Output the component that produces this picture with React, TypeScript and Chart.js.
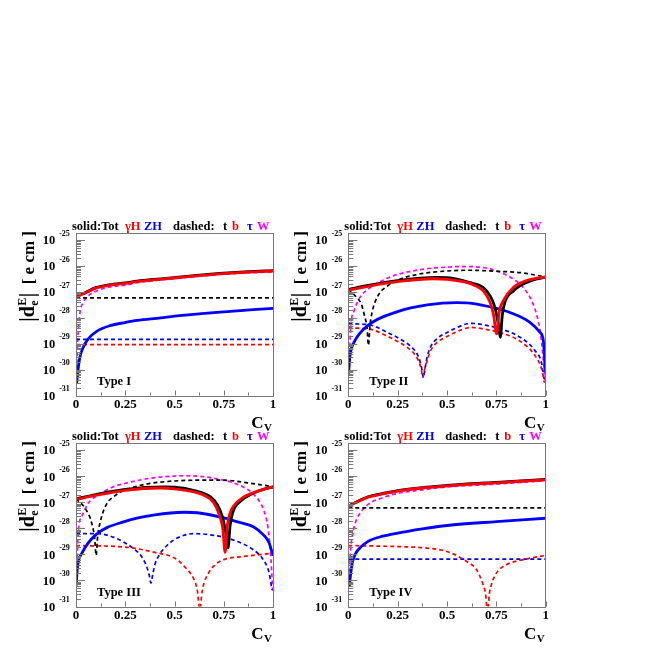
import React, { useEffect, useRef } from "react";
import { Chart, registerables } from "chart.js";
Chart.register(...registerables);

type Pt = [number, number];

// ---------- axes / labels ----------
const xTickValues = [0, 0.25, 0.5, 0.75, 1];
const xTickLabels = ["0", "0.25", "0.5", "0.75", "1"];
const xMinorTickValues = [0.125, 0.375, 0.625, 0.875];
const yDecadeValues = [1e-31, 1e-30, 1e-29, 1e-28, 1e-27, 1e-26, 1e-25];
const yDecadeExponents = ["-31", "-30", "-29", "-28", "-27", "-26", "-25"];
const Y_MIN = 1e-31;
const Y_MAX = 1.9e-25;
const typeLabels = ["Type I", "Type II", "Type III", "Type IV"];
const headerTexts = ["solid:Tot", "\u03b3H", "ZH", "dashed:", "t", "b", "\u03c4", "W"];
const headerColors = ["#000000", "#ff0000", "#0000ff", "#000000", "#000000", "#ff0000", "#0000ff", "#ff00ff"];

// ---------- Type I ----------
const gH1: Pt[] = [[0, 5.9e-28], [0.02, 7.4e-28], [0.05, 9.3e-28], [0.1, 1.41e-27], [0.175, 1.86e-27], [0.25, 2.14e-27], [0.31, 2.51e-27], [0.43, 3.09e-27], [0.5, 3.47e-27], [0.625, 4.27e-27], [0.75, 5.13e-27], [0.875, 5.89e-27], [1, 6.46e-27]];
const tot1: Pt[] = [[0, 6.1e-28], [0.02, 7.7e-28], [0.05, 9.7e-28], [0.1, 1.47e-27], [0.175, 1.94e-27], [0.25, 2.23e-27], [0.31, 2.62e-27], [0.43, 3.22e-27], [0.5, 3.62e-27], [0.625, 4.45e-27], [0.75, 5.35e-27], [0.875, 6.13e-27], [1, 6.72e-27]];
const zH1: Pt[] = [[0.0035, 2.95e-31], [0.012, 1.26e-30], [0.02, 3.09e-30], [0.037, 7.41e-30], [0.062, 1.55e-29], [0.105, 3.02e-29], [0.173, 5.01e-29], [0.25, 6.61e-29], [0.31, 7.94e-29], [0.43, 1.0e-28], [0.5, 1.17e-28], [0.75, 1.7e-28], [1, 2.34e-28]];
const t1: Pt[] = [[0, 5.9e-28], [1, 5.9e-28]];
const b1: Pt[] = [[0, 9.3e-30], [1, 9.3e-30]];
const tau1: Pt[] = [[0, 1.48e-29], [1, 1.48e-29]];
const w1: Pt[] = [[0.0035, 9.55e-31], [0.008, 1.0e-29], [0.014, 5.89e-29], [0.022, 1.91e-28], [0.037, 3.98e-28], [0.062, 7.08e-28], [0.105, 1.1e-27], [0.173, 1.58e-27], [0.25, 1.82e-27], [0.31, 2.29e-27], [0.43, 2.95e-27], [0.5, 3.31e-27], [0.75, 4.9e-27], [1, 6.03e-27]];

// ---------- Type II ----------
const gH2: Pt[] = [[0, 1.17e-27], [0.1, 1.66e-27], [0.25, 2.51e-27], [0.43, 3.24e-27], [0.5, 3.09e-27], [0.6, 2.34e-27], [0.65, 1.66e-27], [0.684, 1.1e-27], [0.718, 3.98e-28], [0.735, 1.41e-28], [0.752, 2.4e-29], [0.765, 1.78e-28], [0.785, 4.57e-28], [0.836, 1.48e-27], [0.9, 2.69e-27], [0.95, 3.39e-27], [1, 3.8e-27]];
const tot2: Pt[] = [[0, 1.23e-27], [0.1, 1.78e-27], [0.25, 2.75e-27], [0.45, 3.63e-27], [0.5, 3.55e-27], [0.616, 2.29e-27], [0.684, 1.48e-27], [0.718, 7.08e-28], [0.743, 2.51e-28], [0.76, 5.75e-29], [0.77, 1.78e-29], [0.78, 1.26e-28], [0.793, 3.98e-28], [0.836, 1.1e-27], [0.9, 2.29e-27], [0.95, 3.16e-27], [1, 3.72e-27]];
const zH2: Pt[] = [[0.002, 7.94e-31], [0.005, 1.78e-30], [0.01, 4.17e-30], [0.03, 1.17e-29], [0.1, 5.13e-29], [0.25, 1.74e-28], [0.4, 3.16e-28], [0.55, 3.89e-28], [0.616, 3.72e-28], [0.75, 2.34e-28], [0.819, 1.62e-28], [0.92, 6.76e-29], [0.97, 2.82e-29], [0.988, 1.35e-29], [0.997, 1.26e-30], [1, 7.94e-31]];
const t2: Pt[] = [[0, 1.29e-27], [0.05, 5.25e-28], [0.065, 3.55e-28], [0.08, 1.41e-28], [0.095, 3.98e-29], [0.102, 8.71e-30], [0.11, 5.01e-29], [0.12, 1.58e-28], [0.15, 7.08e-28], [0.2, 1.74e-27], [0.25, 2.88e-27], [0.35, 4.79e-27], [0.5, 6.46e-27], [0.616, 6.92e-27], [0.75, 6.31e-27], [0.87, 5.62e-27], [1, 3.8e-27]];
const tau2: Pt[] = [[0, 5.89e-29], [0.1, 5.5e-29], [0.2, 2.69e-29], [0.3, 1.0e-29], [0.33, 6.31e-30], [0.355, 3.16e-30], [0.372, 1.12e-30], [0.38, 5.01e-31], [0.39, 1.26e-30], [0.4, 3.16e-30], [0.415, 7.08e-30], [0.45, 1.58e-29], [0.5, 2.69e-29], [0.6, 5.89e-29], [0.62, 6.17e-29], [0.7, 5.13e-29], [0.77, 3.8e-29], [0.87, 1.78e-29], [0.945, 5.5e-30], [0.98, 1.7e-30], [0.993, 3.98e-31], [0.998, 3.16e-31]];
const b2: Pt[] = [[0, 4.07e-29], [0.1, 3.8e-29], [0.2, 1.91e-29], [0.3, 7.08e-30], [0.33, 4.47e-30], [0.355, 2.24e-30], [0.37, 1.0e-30], [0.378, 5.01e-31], [0.388, 1.12e-30], [0.4, 2.24e-30], [0.415, 5.01e-30], [0.45, 1.12e-29], [0.5, 1.91e-29], [0.6, 4.07e-29], [0.62, 4.27e-29], [0.7, 3.55e-29], [0.77, 2.69e-29], [0.87, 1.26e-29], [0.945, 3.55e-30], [0.98, 1.0e-30], [0.993, 3.16e-31]];
const w2: Pt[] = [[0.004, 6.31e-31], [0.01, 2.51e-29], [0.03, 1.91e-28], [0.06, 6.31e-28], [0.1, 1.29e-27], [0.175, 2.82e-27], [0.25, 4.79e-27], [0.4, 7.94e-27], [0.5, 9.12e-27], [0.55, 9.55e-27], [0.616, 9.55e-27], [0.718, 7.76e-27], [0.819, 3.8e-27], [0.87, 2.0e-27], [0.92, 6.31e-28], [0.953, 1.41e-28], [0.974, 2.4e-29], [0.988, 2.29e-30], [0.996, 3.98e-31]];

// ---------- Type III ----------
const gH3: Pt[] = [[0, 1.29e-27], [0.1, 1.86e-27], [0.25, 2.88e-27], [0.43, 3.55e-27], [0.5, 3.31e-27], [0.6, 2.51e-27], [0.65, 1.86e-27], [0.7, 9.55e-28], [0.73, 2.95e-28], [0.745, 1.0e-28], [0.757, 1.2e-29], [0.768, 1.26e-28], [0.785, 4.47e-28], [0.8, 7.24e-28], [0.85, 1.58e-27], [0.9, 2.34e-27], [1, 3.98e-27]];
const tot3: Pt[] = [[0, 1.35e-27], [0.1, 2.0e-27], [0.25, 3.16e-27], [0.45, 3.89e-27], [0.5, 3.8e-27], [0.6, 2.82e-27], [0.684, 1.58e-27], [0.718, 7.94e-28], [0.743, 2.82e-28], [0.76, 7.08e-29], [0.772, 1.78e-29], [0.782, 1.26e-28], [0.795, 3.98e-28], [0.836, 1.12e-27], [0.9, 2.24e-27], [0.95, 3.16e-27], [1, 3.89e-27]];
const zH3: Pt[] = [[0.002, 7.94e-31], [0.005, 2.0e-30], [0.01, 4.47e-30], [0.03, 1.12e-29], [0.1, 5.62e-29], [0.25, 1.86e-28], [0.4, 3.31e-28], [0.55, 4.17e-28], [0.616, 3.98e-28], [0.75, 2.51e-28], [0.82, 1.78e-28], [0.9, 1.15e-28], [0.95, 5.75e-29], [0.98, 2.82e-29], [1, 8.91e-30]];
const t3: Pt[] = [[0, 1.38e-27], [0.05, 5.37e-28], [0.08, 1.58e-28], [0.095, 3.98e-29], [0.102, 9.12e-30], [0.11, 5.01e-29], [0.12, 1.41e-28], [0.15, 7.24e-28], [0.2, 1.86e-27], [0.25, 2.95e-27], [0.35, 4.9e-27], [0.5, 6.61e-27], [0.616, 7.08e-27], [0.75, 7.08e-27], [0.87, 5.62e-27], [1, 3.98e-27]];
const tau3: Pt[] = [[0, 6.31e-29], [0.1, 6.31e-29], [0.2, 4.27e-29], [0.3, 1.51e-29], [0.33, 8.91e-30], [0.355, 3.98e-30], [0.372, 1.58e-30], [0.38, 7.94e-31], [0.39, 1.78e-30], [0.4, 3.98e-30], [0.42, 8.91e-30], [0.45, 1.78e-29], [0.5, 3.72e-29], [0.6, 6.31e-29], [0.7, 5.37e-29], [0.8, 3.55e-29], [0.9, 1.51e-29], [0.95, 6.31e-30], [0.98, 2.0e-30], [0.995, 4.37e-31]];
const b3: Pt[] = [[0, 2.19e-29], [0.25, 1.91e-29], [0.4, 1.2e-29], [0.5, 7.24e-30], [0.55, 3.47e-30], [0.6, 1.05e-30], [0.615, 4.47e-31], [0.629, 8.0e-32], [0.64, 3.55e-31], [0.65, 7.94e-31], [0.67, 1.78e-30], [0.7, 3.63e-30], [0.75, 6.31e-30], [0.85, 8.32e-30], [1, 1.12e-29]];
const w3: Pt[] = [[0.004, 6.31e-31], [0.01, 5.01e-29], [0.03, 2.95e-28], [0.06, 8.91e-28], [0.1, 1.66e-27], [0.175, 3.55e-27], [0.25, 5.37e-27], [0.4, 8.91e-27], [0.5, 1.02e-26], [0.55, 1.05e-26], [0.616, 1.02e-26], [0.75, 7.08e-27], [0.8, 5.62e-27], [0.87, 3.16e-27], [0.9, 2.09e-27], [0.93, 1.12e-27], [0.953, 5.01e-28], [0.975, 1.0e-28], [0.99, 6.31e-30], [0.998, 3.98e-31]];

// ---------- Type IV ----------
const gH4: Pt[] = [[0, 6.46e-28], [0.02, 8.32e-28], [0.05, 1.07e-27], [0.1, 1.58e-27], [0.175, 2.09e-27], [0.25, 2.69e-27], [0.375, 3.55e-27], [0.5, 4.27e-27], [0.625, 5.01e-27], [0.75, 5.62e-27], [0.875, 6.46e-27], [1, 7.24e-27]];
const tot4: Pt[] = [[0, 6.7e-28], [0.02, 8.65e-28], [0.05, 1.11e-27], [0.1, 1.64e-27], [0.175, 2.17e-27], [0.25, 2.8e-27], [0.375, 3.69e-27], [0.5, 4.44e-27], [0.625, 5.21e-27], [0.75, 5.85e-27], [0.875, 6.72e-27], [1, 7.53e-27]];
const zH4: Pt[] = [[0.005, 5.89e-31], [0.01, 1.35e-30], [0.02, 4.68e-30], [0.035, 1.0e-29], [0.05, 1.51e-29], [0.1, 3.16e-29], [0.175, 5.01e-29], [0.25, 6.61e-29], [0.375, 9.55e-29], [0.5, 1.29e-28], [0.75, 1.82e-28], [1, 2.45e-28]];
const t4: Pt[] = [[0, 6.17e-28], [1, 6.17e-28]];
const tau4: Pt[] = [[0, 6.61e-30], [1, 6.61e-30]];
const b4: Pt[] = [[0, 2.19e-29], [0.25, 2.0e-29], [0.4, 1.74e-29], [0.5, 1.29e-29], [0.6, 5.37e-30], [0.65, 2.57e-30], [0.68, 7.94e-31], [0.695, 3.16e-31], [0.705, 6.31e-32], [0.715, 3.16e-31], [0.725, 7.08e-31], [0.75, 1.91e-30], [0.8, 3.98e-30], [0.9, 6.61e-30], [1, 9.12e-30]];
const w4: Pt[] = [[0.004, 6.31e-31], [0.01, 1.0e-29], [0.02, 5.01e-29], [0.035, 1.58e-28], [0.05, 2.95e-28], [0.1, 8.32e-28], [0.175, 1.51e-27], [0.25, 2.19e-27], [0.375, 3.02e-27], [0.5, 3.89e-27], [0.75, 5.01e-27], [1, 6.76e-27]];

type PanelData = { gh: Pt[]; tot: Pt[]; zh: Pt[]; t: Pt[]; b: Pt[]; tau: Pt[]; w: Pt[] };
const panelData: PanelData[] = [
  { gh: gH1, tot: tot1, zh: zH1, t: t1, b: b1, tau: tau1, w: w1 },
  { gh: gH2, tot: tot2, zh: zH2, t: t2, b: b2, tau: tau2, w: w2 },
  { gh: gH3, tot: tot3, zh: zH3, t: t3, b: b3, tau: tau3, w: w3 },
  { gh: gH4, tot: tot4, zh: zH4, t: t4, b: b4, tau: tau4, w: w4 },
];

// ---------- layout (page pixels) ----------
const panelBoxes = [
  { left: 0, top: 200, w: 285, h: 232, pad: { left: 76, right: 12, top: 33, bottom: 36.5 } },
  { left: 285, top: 200, w: 369, h: 232, pad: { left: 63.3, right: 108.3, top: 33, bottom: 36.5 } },
  { left: 0, top: 432, w: 285, h: 222, pad: { left: 76, right: 12, top: 11, bottom: 47.5 } },
  { left: 285, top: 432, w: 369, h: 222, pad: { left: 63.3, right: 108.3, top: 11, bottom: 47.5 } },
];
const headerOffsets = [-4, 49, 68, 97, 147, 156, 171, 181];

const SERIF = "'Liberation Serif','Times New Roman',serif";

function toXY(p: Pt[]) {
  return p.map(([x, y]) => ({ x, y }));
}

function solid(label: string, data: Pt[], color: string) {
  return {
    label, data: toXY(data), borderColor: color, borderWidth: 2.8, pointRadius: 0,
    cubicInterpolationMode: "monotone" as const, borderJoinStyle: "round" as const, fill: false,
  };
}
function dashed(label: string, data: Pt[], color: string) {
  return {
    label, data: toXY(data), borderColor: color, borderWidth: 1.7, borderDash: [4, 3], pointRadius: 0,
    cubicInterpolationMode: "monotone" as const, fill: false,
  };
}

function decorPlugin(idx: number) {
  return {
    id: "decor" + idx,
    afterDraw(chart: any) {
      const ctx: CanvasRenderingContext2D = chart.ctx;
      const a = chart.chartArea;
      const xs = chart.scales.x;
      const ys = chart.scales.y;
      ctx.save();
      // frame
      ctx.strokeStyle = "#777";
      ctx.lineWidth = 1;
      ctx.strokeRect(Math.round(a.left) + 0.5, Math.round(a.top) + 0.5, Math.round(a.right - a.left), Math.round(a.bottom - a.top));
      // y ticks
      ctx.beginPath();
      yDecadeValues.forEach((dv) => {
        for (let m = 1; m <= 9; m++) {
          const v = dv * m;
          if (v > Y_MAX * 1.0001) break;
          const py = Math.round(ys.getPixelForValue(v)) + 0.5;
          const len = m === 1 ? 9 : 5;
          ctx.moveTo(a.left, py);
          ctx.lineTo(a.left + len, py);
        }
      });
      // x ticks
      xTickValues.forEach((v) => {
        const px = Math.round(xs.getPixelForValue(v)) + 0.5;
        ctx.moveTo(px, a.bottom);
        ctx.lineTo(px, a.bottom - 5);
      });
      xMinorTickValues.forEach((v) => {
        const px = Math.round(xs.getPixelForValue(v)) + 0.5;
        ctx.moveTo(px, a.bottom);
        ctx.lineTo(px, a.bottom - 3);
      });
      ctx.stroke();

      ctx.fillStyle = "#000";
      // x tick labels
      ctx.font = `bold 13px ${SERIF}`;
      ctx.textAlign = "center";
      ctx.textBaseline = "middle";
      xTickValues.forEach((v, i) => {
        ctx.fillText(xTickLabels[i], xs.getPixelForValue(v), a.bottom + 9);
      });
      // y tick labels
      yDecadeValues.forEach((dv, i) => {
        const py = ys.getPixelForValue(dv);
        ctx.font = `bold 12.5px ${SERIF}`;
        ctx.fillText("10", a.left - 27, py + 1);
        ctx.font = `bold 8px ${SERIF}`;
        ctx.fillText(yDecadeExponents[i], a.left - 11.5, py - 6.5);
      });
      // header
      ctx.font = `bold 12.5px ${SERIF}`;
      ctx.textAlign = "left";
      ctx.textBaseline = "alphabetic";
      headerTexts.forEach((t, i) => {
        ctx.fillStyle = headerColors[i];
        ctx.fillText(t, a.left + headerOffsets[i], a.top - 3);
      });
      // type label
      ctx.fillStyle = "#000";
      ctx.font = `bold 12.5px ${SERIF}`;
      ctx.textBaseline = "middle";
      ctx.fillText(typeLabels[idx], a.left + 21, a.bottom - 14);
      // C_V title
      ctx.textBaseline = "alphabetic";
      ctx.textAlign = "right";
      ctx.font = `bold 11px ${SERIF}`;
      const vW = ctx.measureText("V").width;
      ctx.fillText("V", a.right - 1, a.bottom + 35);
      ctx.font = `bold 17px ${SERIF}`;
      ctx.fillText("C", a.right - 1 - vW - 0.5, a.bottom + 32.5);
      // y title (rotated)
      ctx.save();
      ctx.translate(a.left - 42, a.top - 1);
      ctx.rotate(-Math.PI / 2);
      ctx.textAlign = "left";
      const big = `bold 20px ${SERIF}`;
      const small = `bold 12px ${SERIF}`;
      const mid = `bold 17px ${SERIF}`;
      const meas = (t: string, f: string) => { ctx.font = f; return ctx.measureText(t).width; };
      const wBar = meas("|", big);
      const wD = meas("d", big);
      const wE = Math.max(meas("E", small), meas("e", small));
      const wUnit = meas("  [ e cm ]", mid);
      const total = wBar + wD + wE + wBar + wUnit;
      let x = -total;
      ctx.font = big; ctx.fillText("|", x, 0); x += wBar;
      ctx.fillText("d", x, 0); x += wD;
      ctx.font = small; ctx.fillText("E", x + 0.5, -8); ctx.fillText("e", x + 0.5, 4); x += wE + 1;
      ctx.font = big; ctx.fillText("|", x, 0); x += wBar;
      ctx.font = mid; ctx.fillText("  [ e cm ]", x, 0);
      ctx.restore();
      ctx.restore();
    },
  };
}

function Panel({ idx }: { idx: number }) {
  const ref = useRef<HTMLCanvasElement>(null);
  const box = panelBoxes[idx];
  useEffect(() => {
    if (!ref.current) return;
    const d = panelData[idx];
    const chart = new Chart(ref.current, {
      type: "line",
      data: {
        datasets: [
          solid("\u03b3H", d.gh, "#ff0000"),
          solid("Tot", d.tot, "#000000"),
          solid("ZH", d.zh, "#0000ff"),
          dashed("t", d.t, "#000000"),
          dashed("b", d.b, "#ff0000"),
          dashed("\u03c4", d.tau, "#0000ff"),
          dashed("W", d.w, "#ff00ff"),
        ] as any,
      },
      options: {
        responsive: false,
        animation: false,
        devicePixelRatio: 1,
        events: [],
        layout: { padding: box.pad },
        plugins: { legend: { display: false }, tooltip: { enabled: false } },
        scales: {
          x: { type: "linear", min: 0, max: 1, display: false },
          y: { type: "logarithmic", min: Y_MIN, max: Y_MAX, display: false },
        },
      },
      plugins: [decorPlugin(idx)],
    });
    return () => chart.destroy();
  }, [idx]);
  return (
    <canvas
      ref={ref}
      width={box.w}
      height={box.h}
      style={{ position: "absolute", left: box.left, top: box.top, width: box.w, height: box.h }}
    />
  );
}

export default function App() {
  return (
    <div style={{ position: "absolute", left: 0, top: 0, width: 654, height: 654, background: "#ffffff", overflow: "hidden" }}>
      <Panel idx={0} />
      <Panel idx={1} />
      <Panel idx={2} />
      <Panel idx={3} />
    </div>
  );
}
